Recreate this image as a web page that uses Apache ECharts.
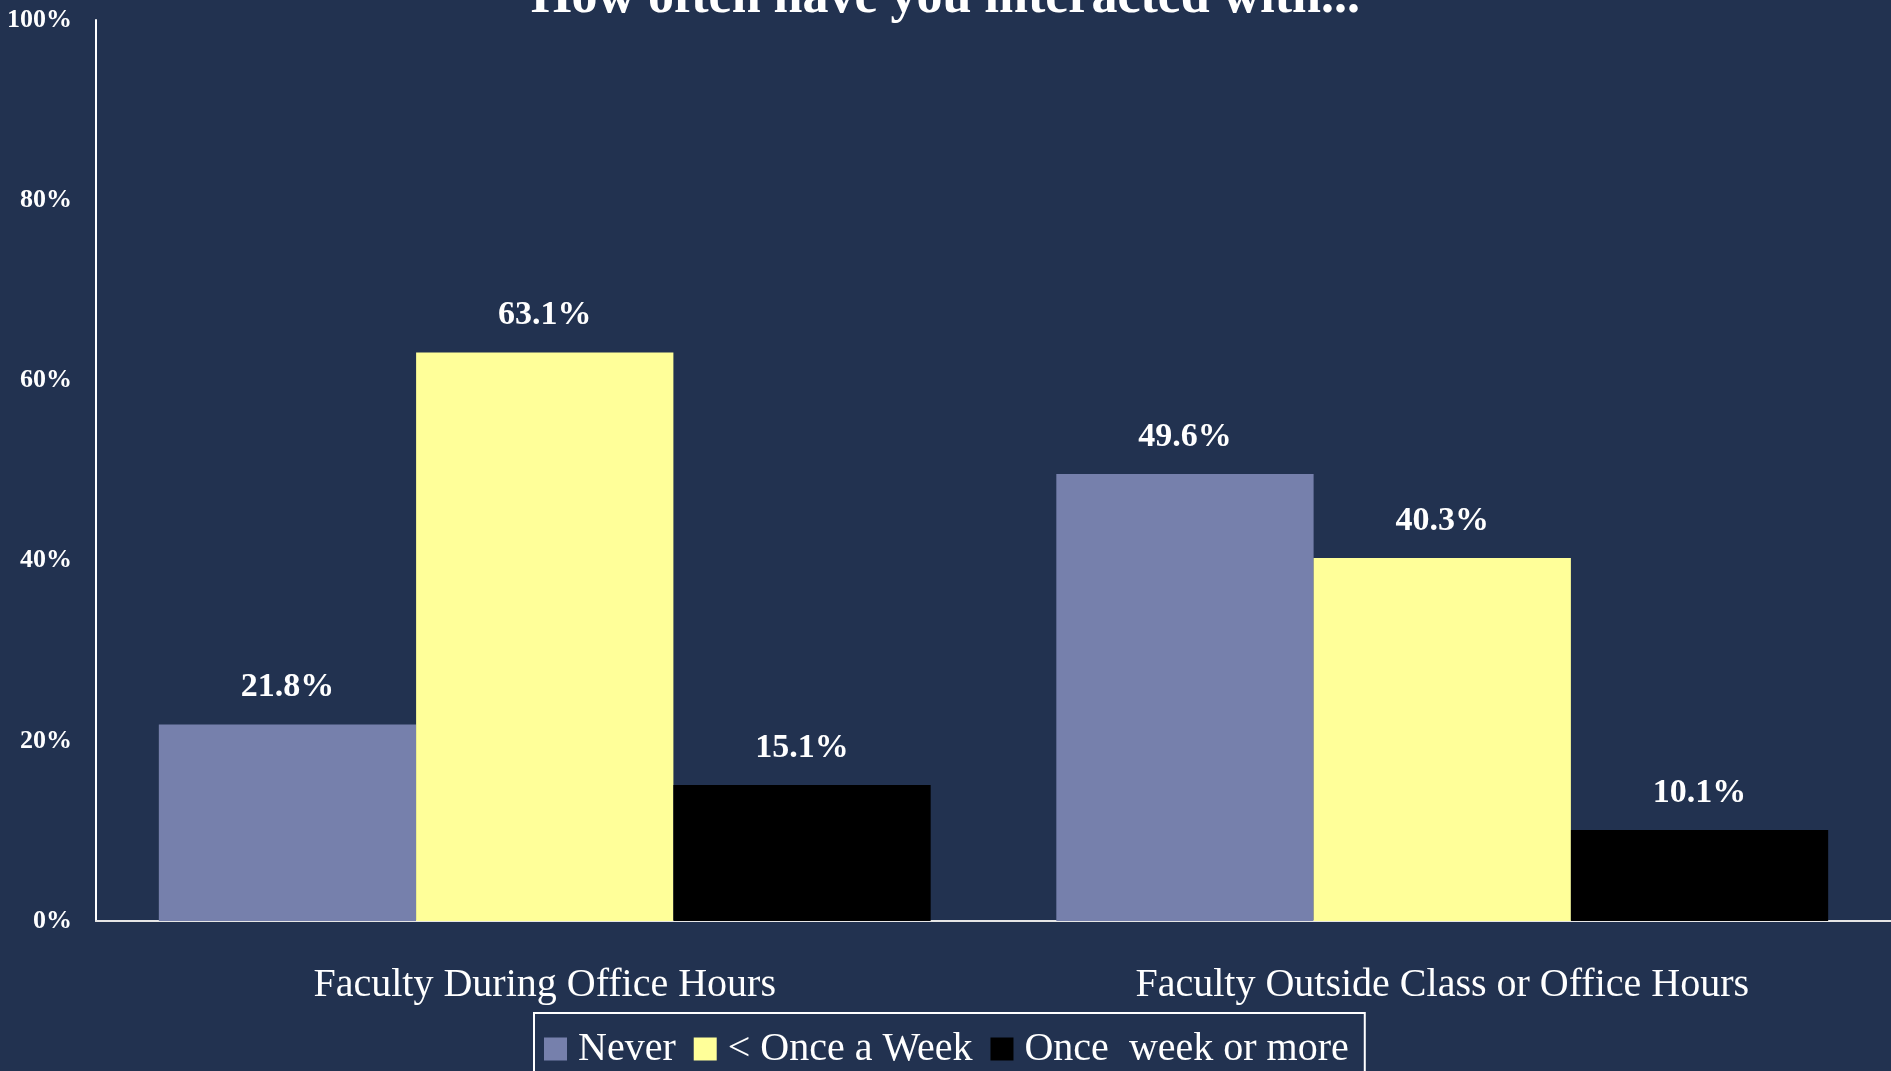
<!DOCTYPE html>
<html>
<head>
<meta charset="utf-8">
<script src="https://cdn.jsdelivr.net/npm/echarts@6/dist/echarts.min.js"></script>
<style>
  html, body { margin: 0; padding: 0; background: #223250; }
  #chart { width: 1891px; height: 1071px; }
</style>
</head>
<body>
<div id="chart"></div>
<script>
const categories = ['Faculty During Office Hours', 'Faculty Outside Class or Office Hours']
const seriesNames = ['Never', '< Once a Week', 'Once  week or more']
const neverValues = [21.8, 49.6]
const lessWeeklyValues = [63.1, 40.3]
const weeklyValues = [15.1, 10.1]
const barColors = ['#7680ac', '#ffff99', '#000000']

const serif = '"Liberation Serif", "DejaVu Serif", serif'

function makeSeries(name, data, color) {
  return {
    name,
    type: 'bar',
    data,
    barGap: 0,
    barCategoryGap: '14%',
    itemStyle: { color },
    label: {
      show: true,
      position: 'top',
      distance: 20,
      color: '#ffffff',
      fontFamily: serif,
      fontWeight: 'bold',
      fontSize: 34,
      formatter: (p) => p.value.toFixed(1) + '%'
    }
  }
}

const chart = echarts.init(document.getElementById('chart'))
chart.setOption({
  backgroundColor: '#223250',
  animation: false,
  title: {
    text: 'How often have you interacted with...',
    left: 'center',
    top: -32,
    textStyle: { color: '#ffffff', fontFamily: serif, fontWeight: 'bold', fontSize: 52 }
  },
  legend: {
    data: seriesNames,
    left: 534,
    top: 1013,
    width: 900,
    padding: [16, 16, 30, 10],
    borderColor: '#ffffff',
    borderWidth: 2,
    itemWidth: 23,
    itemHeight: 23,
    itemGap: 18,
    icon: 'rect',
    textStyle: { color: '#ffffff', fontFamily: serif, fontSize: 40, padding: [0, 0, 0, 6] }
  },
  grid: { left: 96, right: 0, top: 20, bottom: 150, containLabel: false },
  xAxis: {
    type: 'category',
    data: categories,
    axisLine: { lineStyle: { color: '#e6e6e6', width: 2 } },
    axisTick: { show: false },
    axisLabel: { color: '#ffffff', fontFamily: serif, fontSize: 40, margin: 44 }
  },
  yAxis: {
    type: 'value',
    min: 0,
    max: 100,
    interval: 20,
    axisLine: { show: true, lineStyle: { color: '#ffffff', width: 2 } },
    axisTick: { show: false },
    splitLine: { show: false },
    axisLabel: {
      color: '#ffffff',
      fontFamily: serif,
      fontWeight: 'bold',
      fontSize: 26,
      margin: 24,
      formatter: '{value}%'
    }
  },
  series: [
    makeSeries(seriesNames[0], neverValues, barColors[0]),
    makeSeries(seriesNames[1], lessWeeklyValues, barColors[1]),
    makeSeries(seriesNames[2], weeklyValues, barColors[2])
  ]
})
</script>
</body>
</html>
